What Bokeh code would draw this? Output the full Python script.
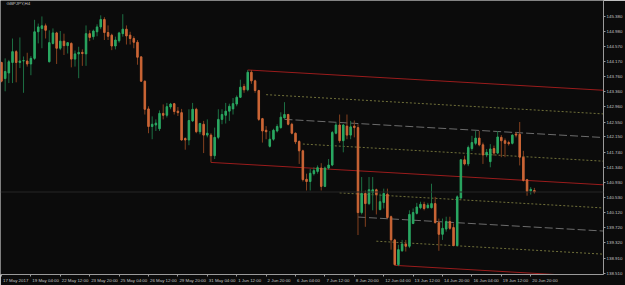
from bokeh.plotting import figure
from bokeh.models import Range1d, FixedTicker, Label, Span, ColumnDataSource, NumeralTickFormatter
from bokeh.embed import file_html
from bokeh.resources import INLINE
import numpy as np

# ---- data (GBPJPY H4, bar 0 = 17 May 2017 20:00) ----
opens = [144.14, 143.71, 143.86, 144.14, 144.43, 144.14, 144.18, 144.18, 144.10, 144.25,
         144.96, 145.05, 145.12, 144.16, 144.65, 144.93, 144.52, 144.71, 144.59, 144.65,
         144.23, 144.37, 144.41, 144.37, 144.91, 144.83, 144.96, 145.09, 145.29, 144.94,
         144.87, 144.58, 144.72, 144.91, 145.03, 144.87, 144.78, 144.68, 144.29, 143.64,
         142.90, 142.43, 142.47, 142.37, 142.78, 142.73, 142.95, 143.04, 142.84, 142.80,
         142.11, 142.07, 142.58, 142.89, 142.29, 142.49, 142.20, 142.20, 141.65, 142.14,
         142.62, 142.73, 142.84, 142.90, 143.03, 143.21, 143.50, 143.41, 143.88, 143.65,
         143.39, 142.64, 142.33, 141.90, 142.09, 142.31, 142.40, 142.66, 142.75, 142.49,
         142.25, 142.03, 141.78, 141.02, 140.96, 141.17, 141.23, 141.32, 140.83, 141.32,
         141.40, 142.25, 142.47, 142.05, 142.44, 142.20, 142.44, 142.40, 140.13, 140.64,
         140.37, 140.66, 140.74, 140.21, 140.40, 140.62, 140.02, 139.40, 138.74, 139.11,
         139.29, 139.23, 139.84, 140.11, 140.26, 140.35, 140.26, 140.26, 140.37, 139.86,
         139.55, 139.69, 139.89, 139.73, 139.25, 140.52, 141.54, 141.43, 141.84, 141.98,
         142.12, 141.94, 141.67, 141.49, 141.84, 141.72, 142.14, 142.05, 142.00, 141.98,
         142.23, 142.22, 141.61, 141.01, 140.71, 140.72]
highs = [144.16, 144.25, 144.21, 144.78, 144.47, 144.81, 144.30, 144.40, 144.31, 145.28,
         145.18, 145.37, 145.18, 145.00, 145.05, 144.96, 144.98, 144.91, 144.68, 144.68,
         144.46, 144.56, 144.49, 145.13, 145.00, 145.02, 145.16, 145.40, 145.35, 145.13,
         144.91, 144.83, 144.96, 145.43, 145.13, 144.96, 144.84, 144.74, 144.30, 143.66,
         142.97, 142.70, 142.62, 142.86, 143.02, 143.06, 143.06, 143.06, 142.95, 142.90,
         142.14, 142.89, 143.06, 142.93, 142.53, 142.58, 142.62, 142.25, 142.40, 142.89,
         142.89, 143.06, 143.04, 143.19, 143.26, 143.68, 143.57, 143.94, 143.94, 143.68,
         143.41, 142.66, 142.44, 142.31, 142.37, 142.49, 142.81, 143.08, 142.77, 142.53,
         142.27, 142.06, 141.81, 141.17, 141.30, 141.34, 141.39, 141.45, 141.36, 141.56,
         142.31, 142.53, 142.75, 142.49, 142.75, 142.58, 142.59, 142.49, 141.08, 140.72,
         141.08, 141.08, 140.77, 140.64, 140.77, 140.77, 140.05, 139.43, 139.27, 139.40,
         139.40, 140.19, 140.24, 140.39, 140.42, 140.42, 140.39, 140.90, 140.55, 139.97,
         139.97, 140.02, 140.02, 139.84, 140.59, 141.56, 141.65, 141.92, 142.18, 142.31,
         142.31, 142.00, 141.83, 141.96, 141.92, 142.31, 142.20, 142.11, 142.05, 142.22,
         142.29, 142.55, 141.78, 141.03, 140.81, 140.79]
lows = [143.61, 143.37, 143.59, 143.59, 143.61, 143.99, 143.33, 144.03, 143.80, 144.21,
        144.65, 144.52, 144.78, 144.14, 144.62, 144.10, 144.47, 144.34, 144.38, 144.01,
        144.03, 143.72, 144.05, 144.05, 144.71, 144.75, 144.84, 145.03, 144.74, 144.74,
        144.47, 144.49, 144.67, 144.83, 144.62, 144.62, 144.52, 144.08, 143.62, 142.75,
        142.25, 142.09, 142.31, 142.31, 142.62, 142.67, 142.89, 142.75, 142.71, 142.05,
        141.81, 141.93, 142.55, 142.25, 142.22, 141.72, 142.14, 141.47, 141.56, 142.09,
        142.49, 142.51, 142.58, 142.75, 142.97, 143.19, 143.33, 143.37, 143.57, 143.33,
        142.58, 142.00, 142.09, 141.87, 142.05, 142.27, 142.37, 142.64, 142.46, 142.22,
        141.96, 141.43, 140.96, 140.72, 140.72, 141.12, 141.17, 140.72, 140.81, 141.28,
        141.37, 142.22, 141.99, 141.74, 142.09, 142.09, 142.14, 139.53, 140.08, 139.75,
        140.33, 140.19, 140.08, 140.19, 140.24, 139.97, 139.14, 138.72, 138.70, 139.08,
        139.09, 139.18, 139.82, 140.08, 140.22, 140.19, 140.24, 140.24, 139.84, 139.11,
        139.40, 139.62, 139.67, 139.23, 139.23, 140.50, 141.39, 141.37, 141.78, 141.93,
        141.90, 141.43, 141.61, 141.34, 141.65, 141.69, 141.61, 141.61, 141.92, 141.95,
        142.14, 141.39, 140.96, 140.58, 140.61, 140.64]
closes = [143.64, 143.90, 144.16, 144.43, 144.14, 144.18, 144.19, 144.10, 144.25, 144.96,
          145.09, 145.12, 145.00, 144.67, 144.93, 144.52, 144.71, 144.59, 144.67, 144.23,
          144.37, 144.41, 144.38, 144.91, 144.81, 144.98, 145.09, 145.29, 144.94, 144.84,
          144.58, 144.74, 144.93, 145.03, 144.85, 144.78, 144.68, 144.28, 143.64, 142.89,
          142.43, 142.49, 142.52, 142.78, 142.73, 142.96, 143.03, 142.83, 142.80, 142.07,
          142.07, 142.59, 142.89, 142.29, 142.51, 142.20, 142.25, 141.65, 142.14, 142.62,
          142.75, 142.84, 142.97, 143.04, 143.21, 143.48, 143.41, 143.88, 143.65, 143.39,
          142.62, 142.31, 142.29, 142.09, 142.33, 142.43, 142.68, 142.75, 142.49, 142.25,
          142.02, 141.78, 141.01, 140.96, 141.18, 141.25, 141.33, 140.83, 141.32, 141.40,
          142.27, 142.47, 142.05, 142.47, 142.20, 142.42, 142.40, 140.13, 140.64, 140.37,
          140.74, 140.74, 140.61, 140.42, 140.64, 140.00, 139.40, 138.74, 139.14, 139.29,
          139.23, 140.08, 140.13, 140.28, 140.35, 140.24, 140.33, 140.37, 139.86, 139.55,
          139.71, 139.89, 139.71, 139.25, 140.55, 141.54, 141.43, 141.87, 142.00, 142.12,
          141.94, 141.67, 141.74, 141.83, 141.72, 142.15, 142.05, 141.98, 141.97, 142.20,
          142.20, 141.61, 140.99, 140.70, 140.75, 140.68]

x_tick_bars = [0, 8, 16, 24, 32, 40, 48, 56, 64, 72, 80, 88, 96, 104, 112, 120, 128, 136, 144]
x_tick_labels = ["17 May 2017", "19 May 04:00", "22 May 12:00", "23 May 20:00", "25 May 04:00",
                 "26 May 12:00", "29 May 20:00", "31 May 04:00", "1 Jun 12:00", "2 Jun 20:00",
                 "6 Jun 04:00", "7 Jun 12:00", "8 Jun 20:00", "12 Jun 04:00", "13 Jun 12:00",
                 "14 Jun 20:00", "16 Jun 04:00", "19 Jun 12:00", "20 Jun 20:00"]
y_ticks = [145.380, 144.980, 144.570, 144.170, 143.760, 143.360, 142.960, 142.550, 142.150,
           141.740, 141.340, 140.930, 140.530, 140.120, 139.720, 139.320, 138.910, 138.510]
bid_price = 140.68

# channel anchors (bar index, price) and slope per bar
upper_anchor = (67, 143.94)
mid_anchor = (57, 141.47)
lower_anchor = (107, 138.72)
channel_slope = -0.0056
channel_levels = [0.25, 0.5, 0.75]

# ---- styling ----
BG = "#0b0b0b"
BULL, BULL_W = "#2aa862", "#1d7044"
BEAR, BEAR_W = "#cc6636", "#84401f"
AX = "#9a9a9a"
TXT = "#c4c4c4"
FONT = "Liberation Sans"
FS_PX = 4.4
FS = "%.1fpx" % FS_PX
X0, X1 = -0.27, 163.8
FRAME_W = 605

n = len(opens)
idx = np.arange(n)
o = np.array(opens); h = np.array(highs); l = np.array(lows); c = np.array(closes)
up = c >= o
src = ColumnDataSource(dict(
    x=idx, top=np.maximum(o, c), bottom=np.minimum(o, c), high=h, low=l,
    color=np.where(up, BULL, BEAR), wcolor=np.where(up, BULL_W, BEAR_W)))

p = figure(width=625, height=285, output_backend="svg", toolbar_location=None,
           x_range=Range1d(X0, X1), y_range=Range1d(138.476, 145.796),
           y_axis_location="right", min_border_left=0, min_border_top=0,
           min_border_right=20, min_border_bottom=9)
p.background_fill_color = BG
p.border_fill_color = BG
p.outline_line_color = None
p.grid.visible = False

# bid line
p.add_layout(Span(location=bid_price, dimension="width", line_color="#262626", line_width=1))

# channel lines
def line_at(anchor, xs):
    return anchor[1] + channel_slope * (xs - anchor[0])

x_end = 175.0
span_bars = lower_anchor[0] - upper_anchor[0]
def draw_level(which, frac, start, color, dash):
    xs = np.array([start, x_end])
    mid = line_at(mid_anchor, xs)
    edge = line_at(upper_anchor if which == "up" else lower_anchor, xs)
    ys = mid + frac * (edge - mid)
    p.line(xs, ys, line_color=color, line_width=1, line_dash=dash)

RED = "#9a1c1c"
OLIVE = "#70703a"
GREY = "#6c6c6c"
for anchor in (upper_anchor, mid_anchor, lower_anchor):
    xs = np.array([anchor[0], x_end])
    p.line(xs, line_at(anchor, xs), line_color=RED, line_width=1)
step = span_bars / 8.0
for f in channel_levels:
    k = round((1 - f) * 4)
    start_up = upper_anchor[0] + k * step
    start_dn = upper_anchor[0] + (8 - k) * step
    col, dash = (GREY, "8 3") if f == 0.5 else (OLIVE, "2 2")
    draw_level("up", f, start_up, col, dash)
    draw_level("dn", f, start_dn, col, dash)

# candles
p.segment(x0="x", y0="high", x1="x", y1="low", source=src, line_color="wcolor", line_width=1)
p.vbar(x="x", width=0.42, top="top", bottom="bottom", source=src,
       fill_color="color", line_color="color", line_width=1)

# x axis: labels start just right of their tick (MetaTrader style).
# Bokeh centres axis labels, so the labelled ticks are offset by half the text width,
# while the real tick marks are drawn as minor ticks at the bar positions.
CHAR_EM = {" ": 0.278, ":": 0.278, "M": 0.833, "J": 0.5, "y": 0.5}
def text_px(s):
    return sum(CHAR_EM.get(ch, 0.556) for ch in s) * FS_PX
px_per_bar = FRAME_W / (X1 - X0)
label_pos = [b + (text_px(s) / 2 + 1.5) / px_per_bar for b, s in zip(x_tick_bars, x_tick_labels)]

xa = p.xaxis[0]
xa.ticker = FixedTicker(ticks=label_pos, minor_ticks=x_tick_bars)
xa.major_label_overrides = {pos: s for pos, s in zip(label_pos, x_tick_labels)}
xa.major_tick_line_color = None
xa.minor_tick_line_color = AX
xa.minor_tick_out = 2
xa.minor_tick_in = 0

ya = p.yaxis[0]
ya.ticker = FixedTicker(ticks=y_ticks)
ya.formatter = NumeralTickFormatter(format="0.000")
ya.major_tick_line_color = AX
ya.minor_tick_line_color = None
for ax in (xa, ya):
    ax.axis_line_color = AX
    ax.major_tick_out = 2
    ax.major_tick_in = 0
    ax.major_label_standoff = 1
    ax.major_label_text_color = TXT
    ax.major_label_text_font = FONT
    ax.major_label_text_font_size = FS

# left frame edge
p.add_layout(Span(location=X0, dimension="height", line_color="#7a7a7a", line_width=1))

# title and bid label
p.add_layout(Label(x=6, y=271, x_units="screen", y_units="screen", text="GBPJPY,H4",
                   text_font=FONT, text_font_size=FS, text_color=TXT, text_baseline="middle"))
p.add_layout(Label(x=606, y=bid_price, x_units="screen", y_units="data", text="%.3f" % bid_price,
                   text_font=FONT, text_font_size=FS, text_color="#111111", text_baseline="middle",
                   background_fill_color="#c8c8c8"))

open("out.html", "w").write(file_html(p, INLINE))
